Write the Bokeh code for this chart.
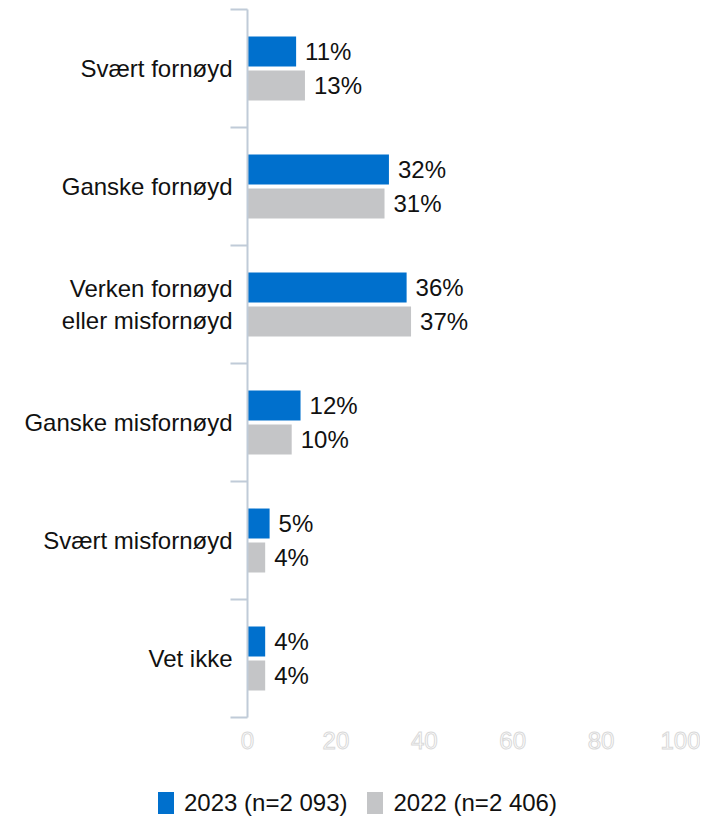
import numpy as np
from bokeh.plotting import figure
from bokeh.layouts import column
from bokeh.models import ColumnDataSource, Range1d, FixedTicker, Div
from bokeh.transform import dodge
from bokeh.core.properties import value
from bokeh.embed import file_html
from bokeh.resources import INLINE

categories = ["Svært fornøyd", "Ganske fornøyd", "Verken fornøyd\neller misfornøyd",
              "Ganske misfornøyd", "Svært misfornøyd", "Vet ikke"]
values_2023 = [11, 32, 36, 12, 5, 4]
values_2022 = [13, 31, 37, 10, 4, 4]
series_labels = ["2023 (n=2 093)", "2022 (n=2 406)"]
x_ticks = [0, 20, 40, 60, 80, 100]

BLUE = "#0070CD"
GRAY = "#C4C5C7"
AXIS = "#C0CBD8"
FONT = "Liberation Sans"
TXT = "#111111"
FS = "24px"

ypos = np.arange(len(categories)) + 0.5
src = ColumnDataSource(dict(
    y=ypos,
    v23=values_2023,
    v22=values_2022,
    t23=[f"{v}%" for v in values_2023],
    t22=[f"{v}%" for v in values_2022],
))

p = figure(width=700, height=760, output_backend="svg", toolbar_location=None,
           x_range=Range1d(0, 100), y_range=Range1d(len(categories), 0),
           min_border_left=247, min_border_right=11, min_border_top=9, min_border_bottom=43)
p.outline_line_color = None
p.xgrid.visible = False
p.ygrid.visible = False
p.background_fill_color = "white"
p.border_fill_color = "white"

off = 0.144
h = 0.254
r23 = p.hbar(y=dodge("y", -off), right="v23", left=0, height=h, source=src,
             fill_color=BLUE, line_color=None)
r22 = p.hbar(y=dodge("y", off), right="v22", left=0, height=h, source=src,
             fill_color=GRAY, line_color=None)

p.text(x="v23", y=dodge("y", -off), text="t23", source=src, x_offset=9,
       text_align="left", text_baseline="middle", text_font_size=FS,
       text_font=value(FONT), text_color=TXT)
p.text(x="v22", y=dodge("y", off), text="t22", source=src, x_offset=9,
       text_align="left", text_baseline="middle", text_font_size=FS,
       text_font=value(FONT), text_color=TXT)

# y axis
ya = p.yaxis[0]
ya.ticker = FixedTicker(ticks=list(ypos), minor_ticks=list(range(len(categories) + 1)))
ya.major_label_overrides = {float(y): c for y, c in zip(ypos, categories)}
ya.axis_line_color = AXIS
ya.axis_line_width = 2
ya.major_tick_line_color = None
ya.major_tick_out = 0
ya.major_tick_in = 0
ya.minor_tick_line_color = AXIS
ya.minor_tick_line_width = 2
ya.minor_tick_out = 17
ya.minor_tick_in = 0
ya.major_label_standoff = -2
ya.major_label_text_font = FONT
ya.major_label_text_font_size = FS
ya.major_label_text_color = TXT

# x axis
xa = p.xaxis[0]
xa.ticker = FixedTicker(ticks=x_ticks)
xa.axis_line_color = None
xa.major_tick_line_color = None
xa.minor_tick_line_color = None
xa.major_label_standoff = 8
xa.major_label_text_font = FONT
xa.major_label_text_font_size = FS
xa.major_label_text_color = "#EEEEEE"
try:
    xa.major_label_text_outline_color = "#D9D9D9"
    xa.major_label_text_color = "#FFFFFF"
except Exception:
    pass

# legend (HTML row below the plot)
def item(color, label, last=False):
    mr = "0" if last else "20px"
    return (f'<span style="display:inline-block;width:16px;height:22px;background:{color};'
            f'margin-right:10px;flex:none"></span>'
            f'<span style="margin-right:{mr};white-space:nowrap">{label}</span>')

legend_html = (
    f'<div style="display:flex;align-items:center;padding-left:158px;padding-top:29px;'
    f'font-family:\'{FONT}\';font-size:{FS};color:{TXT};line-height:1.15">'
    + item(BLUE, series_labels[0]) + item(GRAY, series_labels[1], last=True)
    + '</div>'
)
leg = Div(text=legend_html, width=700, height=60, margin=0)

layout = column(p, leg, spacing=0)
open("out.html", "w").write(file_html(layout, INLINE))
